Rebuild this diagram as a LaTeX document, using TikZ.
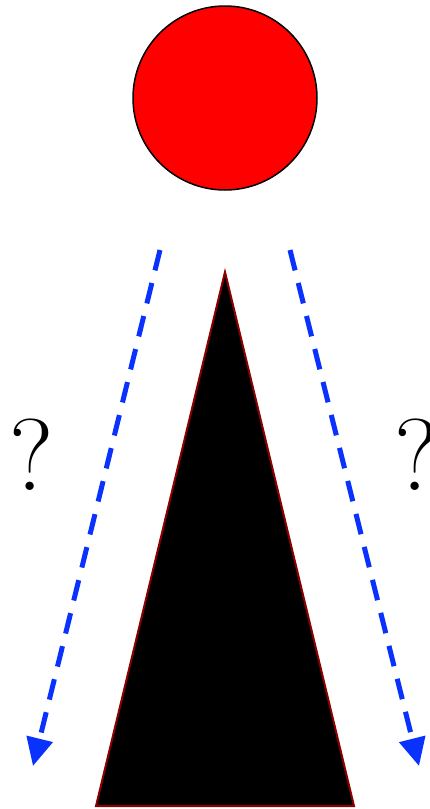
\documentclass[tikz,border=0pt]{standalone}
\usetikzlibrary{arrows.meta}
\begin{document}
\begin{tikzpicture}[x=1pt,y=-1pt,
  qarrow/.style={draw={rgb,255:red,10;green,50;blue,255},line width=5pt,dash pattern=on 21pt off 13pt,
    -{Triangle[length=28pt,width=26pt]}},
  qmark/.style={font=\fontsize{102}{102}\selectfont,inner sep=0pt}]
\useasboundingbox (0,0) rectangle (430,809);
\node[circle,draw=black,line width=1.5pt,fill=red,minimum size=184pt,inner sep=0pt] (ball) at (225,98) {};
\draw[draw={rgb,255:red,140;green,0;blue,0},line width=2pt,fill=black,line join=miter] (225,272) coordinate (apex) -- (96,806) coordinate (bl) -- (354,806) coordinate (br) -- cycle;
\coordinate (ls) at (160,250);
\coordinate (le) at (33,766);
\coordinate (rs) at (290,250);
\coordinate (re) at (419,766);
\draw[qarrow] (ls) -- (le);
\draw[qarrow] (rs) -- (re);
\node[qmark] (ql) at (32,455) {?};
\node[qmark] (qr) at (417,455) {?};
\end{tikzpicture}
\end{document}
